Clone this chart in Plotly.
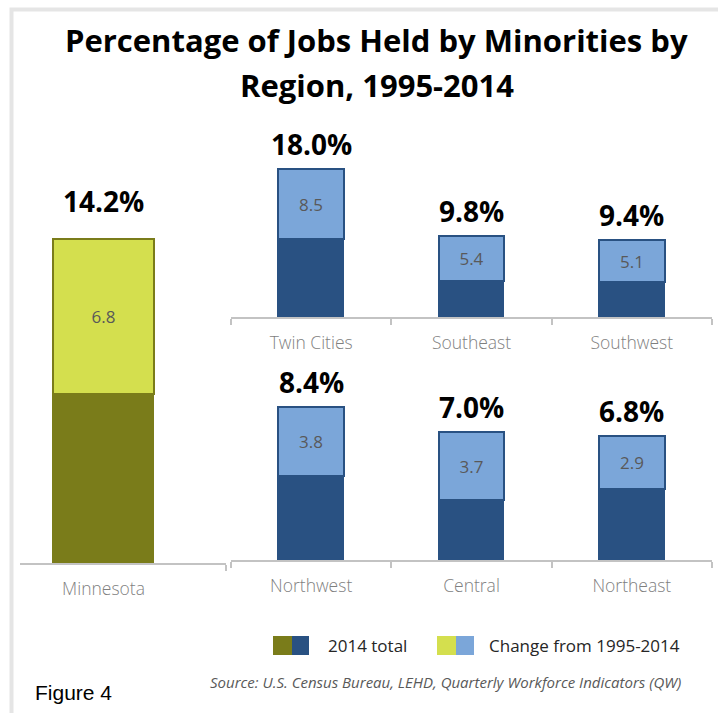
import plotly.graph_objects as go

# Statewide figure
state_name = ["Minnesota"]
state_total = [14.2]
state_change = [6.8]

# Regions, first row and second row
row1_regions = ["Twin Cities", "Southeast", "Southwest"]
row1_total = [18.0, 9.8, 9.4]
row1_change = [8.5, 5.4, 5.1]

row2_regions = ["Northwest", "Central", "Northeast"]
row2_total = [8.4, 7.0, 6.8]
row2_change = [3.8, 3.7, 2.9]

legend_labels = ["2014 total", "Change from 1995-2014"]
title_lines = ["Percentage of Jobs Held by Minorities by", "Region, 1995-2014"]

W, H = 718, 713
OLIVE, LIME = "#7a7c1a", "#d4df4e"
NAVY, SKY = "#295182", "#7ba6d9"
AXIS_GRAY = "#c3c3c3"
BODY_FONT = "Open Sans"


def px(x):
    return x / W


def py(y):
    return 1 - y / H


fig = go.Figure()


def add_panel(cats, totals, changes, xa, ya, dark, light):
    base = [t - c for t, c in zip(totals, changes)]
    fig.add_trace(go.Bar(
        x=cats, y=base, xaxis=xa, yaxis=ya, width=0.41,
        marker=dict(color=dark, line=dict(color=dark, width=1.5)),
        showlegend=False, hoverinfo="skip",
    ))
    fig.add_trace(go.Bar(
        x=cats, y=changes, xaxis=xa, yaxis=ya, width=0.41,
        marker=dict(color=light, line=dict(color=dark, width=2)),
        text=[f"{c:.1f}" for c in changes],
        textposition="inside", insidetextanchor="middle", textangle=0,
        textfont=dict(family=BODY_FONT, size=17, color="#595959"),
        showlegend=False, hoverinfo="skip",
    ))


add_panel(state_name, state_total, state_change, "x", "y", OLIVE, LIME)
add_panel(row1_regions, row1_total, row1_change, "x2", "y2", NAVY, SKY)
add_panel(row2_regions, row2_total, row2_change, "x3", "y3", NAVY, SKY)

cat_axis = dict(
    type="category", showline=True, linecolor=AXIS_GRAY, linewidth=2,
    ticks="outside", tickson="boundaries", ticklen=6, tickwidth=2,
    tickcolor=AXIS_GRAY, showgrid=False, zeroline=False, fixedrange=True,
    tickfont=dict(family=BODY_FONT, size=17.5, color="#7f7f7f", weight=300),
    ticklabelstandoff=9,
)
val_axis = dict(visible=False, showgrid=False, zeroline=False, fixedrange=True)

fig.update_layout(
    width=W, height=H,
    margin=dict(l=0, r=0, t=0, b=0),
    paper_bgcolor="white", plot_bgcolor="rgba(0,0,0,0)",
    barmode="stack", bargap=0,
    showlegend=False,
    xaxis=dict(cat_axis, domain=[px(20), px(226)], range=[-0.341, 0.5], anchor="y"),
    yaxis=dict(val_axis, domain=[py(563), py(150)], range=[0, 413 / 22.8], anchor="x"),
    xaxis2=dict(cat_axis, domain=[px(231), px(712)], range=[-0.5, 2.5], anchor="y2"),
    yaxis2=dict(val_axis, domain=[py(317), py(120)], range=[0, 197 / 8.22], anchor="x2"),
    xaxis3=dict(cat_axis, domain=[px(231), px(712)], range=[-0.5, 2.5], anchor="y3"),
    yaxis3=dict(val_axis, domain=[py(560), py(330)], range=[0, 230 / 18.25], anchor="x3"),
)

annotations = []

# Two-line heading
for line, yc in zip(title_lines, [40, 85]):
    annotations.append(dict(
        x=px(377), y=py(yc), xref="paper", yref="paper", xanchor="center",
        yanchor="middle", text=f"<b>{line}</b>", showarrow=False,
        font=dict(family=BODY_FONT, size=31, color="black"),
    ))

# Total labels above each bar
for cats, totals, xa, ya, shift in [
    (state_name, state_total, "x", "y", 17),
    (row1_regions, row1_total, "x2", "y2", 4),
    (row2_regions, row2_total, "x3", "y3", 4),
]:
    for c, t in zip(cats, totals):
        annotations.append(dict(
            x=c, y=t, xref=xa, yref=ya, text=f"<b>{t:.1f}%</b>", showarrow=False,
            yanchor="bottom", yshift=shift,
            font=dict(family=BODY_FONT, size=28, color="black"),
        ))

# Legend text, source and figure number
annotations += [
    dict(x=px(326), y=py(645), xref="paper", yref="paper", xanchor="left",
         yanchor="middle", text=legend_labels[0], showarrow=False,
         font=dict(family=BODY_FONT, size=17, color="#262626")),
    dict(x=px(487), y=py(645), xref="paper", yref="paper", xanchor="left",
         yanchor="middle", text=legend_labels[1], showarrow=False,
         font=dict(family=BODY_FONT, size=17, color="#262626")),
    dict(x=px(683), y=py(682), xref="paper", yref="paper", xanchor="right",
         yanchor="middle",
         text="<i>Source: U.S. Census Bureau, LEHD, Quarterly Workforce Indicators (QW)</i>",
         showarrow=False, font=dict(family=BODY_FONT, size=15, color="#595959")),
    dict(x=px(33), y=py(692), xref="paper", yref="paper", xanchor="left",
         yanchor="middle", text="Figure 4", showarrow=False,
         font=dict(family="Liberation Sans", size=21, color="black")),
]
fig.update_layout(annotations=annotations)

# Legend keys (two-tone squares) and the light frame around the figure
shapes = []
for x0, x1, col in [(273, 292, OLIVE), (292, 309, NAVY), (437, 456, LIME), (456, 474, SKY)]:
    shapes.append(dict(type="rect", xref="paper", yref="paper",
                       x0=px(x0), x1=px(x1), y0=py(655), y1=py(636),
                       fillcolor=col, line=dict(width=0)))
shapes.append(dict(type="path", xref="paper", yref="paper",
                   path=f"M {px(11.5)} 0 L {px(11.5)} {py(9.5)} L 1 {py(9.5)}",
                   line=dict(color="#e5e5e5", width=4)))
fig.update_layout(shapes=shapes)

fig.write_html("out.html")
